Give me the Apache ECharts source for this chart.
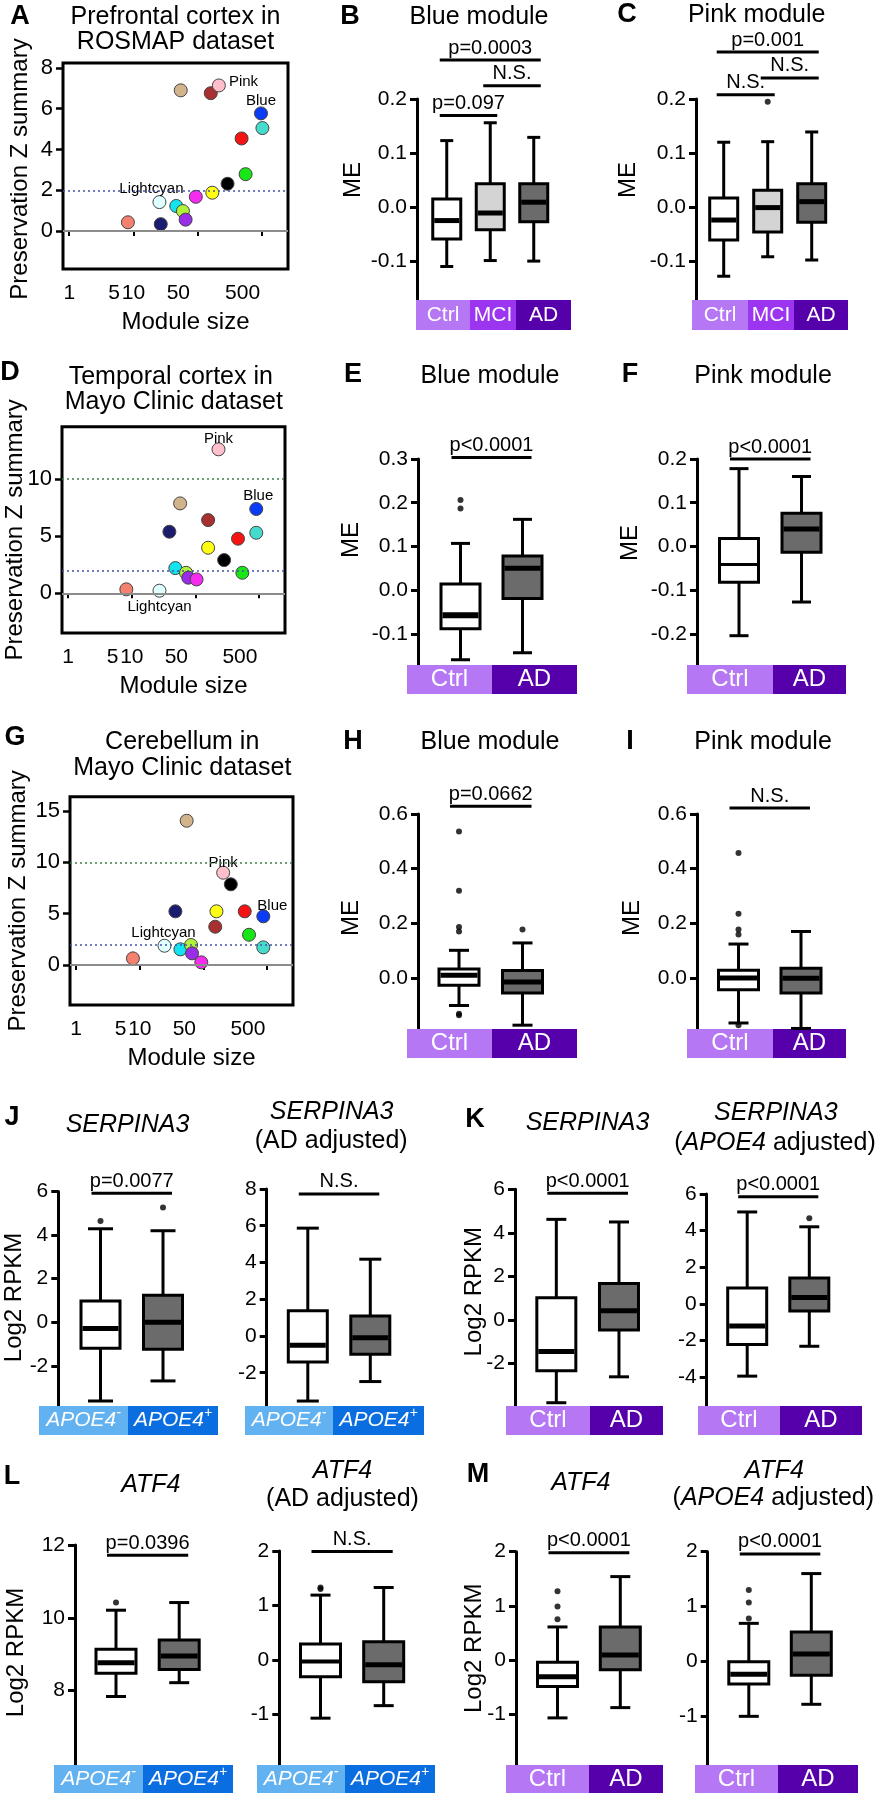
<!DOCTYPE html>
<html>
<head>
<meta charset="utf-8">
<script src="https://cdn.jsdelivr.net/npm/echarts@6.0.0/dist/echarts.min.js"></script>
<style>
html,body{margin:0;padding:0;background:#ffffff;}
#chart{width:878px;height:1800px;}
</style>
</head>
<body>
<div id="chart"></div>
<script>
// ================= DATA =================
const moduleNames  = ['salmon','midnightblue','lightcyan','cyan','greenyellow','purple','magenta','tan','brown','pink','yellow','black','green','red','turquoise','blue'];
const moduleColors = ['#f4806f','#1c1c6e','#e0ffff','#12e3ee','#b0f23a','#9a2ee8','#f52cf0','#d2b48c','#a83030','#ffc0cb','#ffff14','#000000','#17e617','#f51414','#45dccd','#0b3cf5'];
const labeledModules = {pink:'Pink', blue:'Blue', lightcyan:'Lightcyan'};

const moduleSizeA = [8.2, 26.6, 25.4, 46.4, 58.9, 64.9, 93.6, 54.5, 160, 214, 169, 292, 558, 483, 1019, 968];
const zSummaryA   = [0.43, 0.34, 1.42, 1.23, 0.98, 0.56, 1.68, 6.9, 6.76, 7.14, 1.88, 2.32, 2.79, 4.54, 5.05, 5.77];
const moduleSizeD = [8.2, 38.9, 27.2, 48.3, 71, 77, 104, 57.4, 158, 230, 158, 282, 545, 466, 902, 902];
const zSummaryD   = [0.35, 5.39, 0.23, 2.21, 1.8, 1.37, 1.22, 7.87, 6.41, 12.6, 3.99, 2.91, 1.8, 4.78, 5.3, 7.38];
const moduleSizeG = [7.8, 36.2, 24.4, 43.4, 63.8, 66.1, 92.4, 54.5, 153, 204, 160, 269, 520, 445, 871, 871];
const zSummaryG   = [0.65, 5.23, 1.88, 1.53, 1.95, 1.14, 0.26, 14.05, 3.73, 8.99, 5.23, 7.86, 2.95, 5.23, 1.72, 4.74];

const sizeTickLabels = [1, 5, 10, 50, 500];
const sizeTickMarks  = [1, 10, 100, 1000];
const zTicksA = [0, 2, 4, 6, 8];
const zTicksD = [0, 5, 10];
const zTicksG = [0, 5, 10, 15];
const refLinesA = [0, 2];
const refLinesD = [0, 2, 10];
const refLinesG = [0, 2, 10];

// box plots: [min, Q1, median, Q3, max]
const catsB = ['Ctrl','MCI','AD'];
const boxB = [[-0.110,-0.059,-0.025,0.015,0.123],[-0.099,-0.042,-0.011,0.043,0.156],[-0.100,-0.027,0.009,0.043,0.129]];
const outB = [];
const sigB = [[0,1,0.1696,'p=0.097'],[1,2,0.2246,'N.S.'],[0,2,0.2722,'p=0.0003']];
const ticksB = [-0.1, 0, 0.1, 0.2];

const catsC = ['Ctrl','MCI','AD'];
const boxC = [[-0.128,-0.061,-0.024,0.017,0.120],[-0.092,-0.046,-0.001,0.031,0.121],[-0.098,-0.028,0.010,0.043,0.139]];
const outC = [[1,0.195]];
const sigC = [[0,1,0.208,'N.S.'],[1,2,0.2389,'N.S.'],[0,2,0.287,'p=0.001']];
const ticksC = [-0.1, 0, 0.1, 0.2];

const catsCtrlAD = ['Ctrl','AD'];
const catsApoe = ['APOE4-','APOE4+'];

const boxE = [[-0.159,-0.088,-0.057,0.014,0.107],[-0.143,-0.019,0.050,0.078,0.162]];
const outE = [[0,0.206],[0,0.187]];
const sigE = [[0,1,0.3037,'p<0.0001']];
const ticksE = [-0.1, 0, 0.1, 0.2, 0.3];

const boxF = [[-0.204,-0.082,-0.041,0.018,0.178],[-0.127,-0.013,0.040,0.076,0.160]];
const outF = [];
const sigF = [[0,1,0.1998,'p<0.0001']];
const ticksF = [-0.2, -0.1, 0, 0.1, 0.2];

const boxH = [[-0.101,-0.027,0.010,0.033,0.101],[-0.173,-0.055,-0.015,0.027,0.128]];
const outH = [[0,0.536],[0,0.319],[0,0.186],[0,0.170],[0,-0.131],[0,-0.137],[1,0.177]];
const sigH = [[0,1,0.628,'p=0.0662']];
const ticksH = [0, 0.2, 0.4, 0.6];

const boxI = [[-0.165,-0.043,0.000,0.028,0.124],[-0.185,-0.055,-0.001,0.035,0.170]];
const outI = [[0,0.457],[0,0.235],[0,0.177],[0,0.159],[0,-0.173]];
const sigI = [[0,1,0.622,'N.S.']];
const ticksI = [0, 0.2, 0.4, 0.6];

const boxJ1 = [[-3.61,-1.19,-0.29,0.98,4.29],[-2.69,-1.24,0.0,1.24,4.2]];
const outJ1 = [[0,4.65],[1,5.27]];
const sigJ1 = [[0,1,5.92,'p=0.0077']];
const ticksJ1 = [-2, 0, 2, 4, 6];

const boxJ2 = [[-3.54,-1.42,-0.51,1.38,5.87],[-2.48,-0.99,-0.09,1.09,4.18]];
const outJ2 = [];
const sigJ2 = [[0,1,7.73,'N.S.']];
const ticksJ2 = [-2, 0, 2, 4, 6, 8];

const boxK1 = [[-3.8,-2.33,-1.45,1.02,4.62],[-2.61,-0.46,0.42,1.68,4.5]];
const outK1 = [];
const sigK1 = [[0,1,5.82,'p<0.0001']];
const ticksK1 = [-2, 0, 2, 4, 6];

const boxK2 = [[-3.94,-2.22,-1.21,0.87,5.02],[-2.31,-0.38,0.35,1.41,4.21]];
const outK2 = [[1,4.67]];
const sigK2 = [[0,1,5.85,'p<0.0001']];
const ticksK2 = [-4, -2, 0, 2, 4, 6];

const boxL1 = [[7.84,8.48,8.77,9.14,10.21],[8.22,8.58,8.95,9.39,10.42]];
const outL1 = [[0,10.42]];
const sigL1 = [[0,1,11.72,'p=0.0396']];
const ticksL1 = [8, 10, 12];

const boxL2 = [[-1.07,-0.31,-0.03,0.29,1.19],[-0.84,-0.40,-0.09,0.335,1.33]];
const outL2 = [[0,1.33],[0,1.30]];
const sigL2 = [[0,1,1.99,'N.S.']];
const ticksL2 = [-1, 0, 1, 2];

const boxM1 = [[-1.07,-0.49,-0.31,-0.04,0.61],[-0.88,-0.18,0.09,0.61,1.54]];
const outM1 = [[0,1.27],[0,0.99],[0,0.75]];
const sigM1 = [[0,1,1.98,'p<0.0001']];
const ticksM1 = [-1, 0, 1, 2];

const boxM2 = [[-1.01,-0.42,-0.24,-0.01,0.69],[-0.79,-0.26,0.13,0.53,1.60]];
const outM2 = [[0,1.30],[0,1.07],[0,0.78]];
const sigM2 = [[0,1,1.96,'p<0.0001']];
const ticksM2 = [-1, 0, 1, 2];

// ================= LAYOUT / STYLE =================
const FONT = '"Liberation Sans", Arial, Helvetica, sans-serif';
const fillMap = {'Ctrl':'#ffffff','MCI':'#d4d4d4','AD':'#6b6b6b','APOE4-':'#ffffff','APOE4+':'#6b6b6b'};
const bandColor = {'Ctrl':'#b677f4','MCI':'#9b35ef','AD':'#5600ac','APOE4-':'#62b1f1','APOE4+':'#0a6de0'};

const scatterPanels = [
  {size:moduleSizeA, z:zSummaryA, ref:refLinesA, ticks:zTicksA, left:63, right:288, top:63, bottom:269, min:-1.86, max:8.24, nameGap:31, nameShift:-3,
   lab:{pink:{position:'right',distance:3,offset:[0,-4]}, blue:{position:'top',distance:0,offset:[0,2]}, lightcyan:{position:'top',distance:0,offset:[-8,1]}}},
  {size:moduleSizeD, z:zSummaryD, ref:refLinesD, ticks:zTicksD, left:62, right:285, top:426.7, bottom:633, min:-3.47, max:14.58, nameGap:35, nameShift:0,
   lab:{pink:{position:'top',distance:0,offset:[0,4]}, blue:{position:'top',distance:0,offset:[2,1]}, lightcyan:{position:'bottom',distance:2,offset:[0,0]}}},
  {size:moduleSizeG, z:zSummaryG, ref:refLinesG, ticks:zTicksG, left:70, right:293, top:796.7, bottom:1005, min:-3.89, max:16.39, nameGap:40, nameShift:0,
   lab:{pink:{position:'top',distance:0,offset:[0,5]}, blue:{position:'top',distance:0,offset:[9,4]}, lightcyan:{position:'top',distance:0,offset:[-1,2]}}}
];

const boxPanels = [
  {cats:catsB, box:boxB, out:outB, sig:sigB, ticks:ticksB, dec:1, axisX:417, left:425, right:555.5, top:99, bottom:300, min:-0.172, max:0.2, boxW:28, capW:13, medW:[5,5,5], band:[416,470,516,571], bandTop:300, bandH:30, bandFs:21, yName:'ME', nameCx:353, nameCy:180},
  {cats:catsC, box:boxC, out:outC, sig:sigC, ticks:ticksC, dec:1, axisX:696, left:701.7, right:833.7, top:99, bottom:300, min:-0.172, max:0.2, boxW:28, capW:13, medW:[5,5,5], band:[692,748,794,848], bandTop:300, bandH:30, bandFs:21, yName:'ME', nameCx:628, nameCy:180},
  {cats:catsCtrlAD, box:boxE, out:outE, sig:sigE, ticks:ticksE, dec:1, axisX:418, left:429.5, right:553.5, top:459, bottom:665, min:-0.171, max:0.3, boxW:39, capW:19, medW:[6,5], band:[407,492,577], bandTop:665, bandH:29, bandFs:24, yName:'ME', nameCx:351, nameCy:540},
  {cats:catsCtrlAD, box:boxF, out:outF, sig:sigF, ticks:ticksF, dec:1, axisX:697, left:707.75, right:832.75, top:459, bottom:665, min:-0.271, max:0.2, boxW:39, capW:19, medW:[3,5], band:[687,773,846], bandTop:665, bandH:29, bandFs:24, yName:'ME', nameCx:630, nameCy:543},
  {cats:catsCtrlAD, box:boxH, out:outH, sig:sigH, ticks:ticksH, dec:1, axisX:418, left:427.25, right:554.25, top:814, bottom:1029, min:-0.187, max:0.6, boxW:40, capW:20, medW:[5,5], band:[407,492,577], bandTop:1029, bandH:29, bandFs:24, yName:'ME', nameCx:351, nameCy:918},
  {cats:catsCtrlAD, box:boxI, out:outI, sig:sigI, ticks:ticksI, dec:1, axisX:697, left:707.25, right:832.25, top:814, bottom:1029, min:-0.187, max:0.6, boxW:40, capW:20, medW:[5,5], band:[687,773,846], bandTop:1029, bandH:29, bandFs:24, yName:'ME', nameCx:632, nameCy:918},
  {cats:catsApoe, box:boxJ1, out:outJ1, sig:sigJ1, ticks:ticksJ1, dec:0, axisX:58.3, left:69.25, right:194.25, top:1191.5, bottom:1406, min:-3.84, max:6, boxW:39, capW:25, medW:[5,5], band:[39,128,218], bandTop:1406, bandH:29, bandFs:21, yName:'Log2 RPKM', nameCx:14, nameCy:1297.5},
  {cats:catsApoe, box:boxJ2, out:outJ2, sig:sigJ2, ticks:ticksJ2, dec:0, axisX:266.7, left:276.55, right:401.55, top:1189, bottom:1406, min:-3.81, max:8, boxW:39, capW:22, medW:[5,5], band:[245,333,424], bandTop:1406, bandH:29, bandFs:21},
  {cats:catsCtrlAD, box:boxK1, out:outK1, sig:sigK1, ticks:ticksK1, dec:0, axisX:515, left:525, right:650.3, top:1189.3, bottom:1406, min:-3.95, max:6, boxW:39, capW:20, medW:[5,5], band:[506,590,663], bandTop:1406, bandH:29, bandFs:24, yName:'Log2 RPKM', nameCx:474, nameCy:1291.7},
  {cats:catsCtrlAD, box:boxK2, out:outK2, sig:sigK2, ticks:ticksK2, dec:0, axisX:706.7, left:716.15, right:840.35, top:1194, bottom:1406, min:-5.57, max:6, boxW:39, capW:20, medW:[5,5], band:[698,780,862], bandTop:1406, bandH:29, bandFs:24},
  {cats:catsApoe, box:boxL1, out:outL1, sig:sigL1, ticks:ticksL1, dec:0, axisX:75, left:84.4, right:210.8, top:1545, bottom:1765, min:5.96, max:12, boxW:40, capW:20, medW:[5,5], band:[54,143,233], bandTop:1765, bandH:28, bandFs:21, yName:'Log2 RPKM', nameCx:16, nameCy:1652.5},
  {cats:catsApoe, box:boxL2, out:outL2, sig:sigL2, ticks:ticksL2, dec:0, axisX:279.3, left:288.9, right:415.3, top:1551, bottom:1765, min:-1.93, max:2, boxW:40, capW:20, medW:[4,5], band:[257,345,435], bandTop:1765, bandH:28, bandFs:21},
  {cats:catsCtrlAD, box:boxM1, out:outM1, sig:sigM1, ticks:ticksM1, dec:0, axisX:516, left:526.1, right:651.7, top:1551.7, bottom:1765, min:-1.94, max:2, boxW:40, capW:20, medW:[5,5], band:[506,589,663], bandTop:1765, bandH:28, bandFs:24, yName:'Log2 RPKM', nameCx:474, nameCy:1648.3},
  {cats:catsCtrlAD, box:boxM2, out:outM2, sig:sigM2, ticks:ticksM2, dec:0, axisX:707.7, left:717.55, right:842.55, top:1551.7, bottom:1765, min:-1.9, max:2, boxW:40, capW:20, medW:[5,5], band:[695,778,858], bandTop:1765, bandH:28, bandFs:24}
];

// ================= BUILD =================
const grid = [], xAxis = [], yAxis = [], series = [], graphic = [];

function txt(x, y, text, fs, extra) {
  graphic.push({type:'text', x:x, y:y, silent:true, z:10,
    style:Object.assign({text:text, fontSize:fs, fontFamily:FONT, fill:'#000', align:'center', verticalAlign:'middle'}, extra || {})});
}
function fmtTick(v, dec) { return dec > 0 ? Number(v).toFixed(dec) : String(Math.round(v)); }
function padShift(shift) { return shift >= 0 ? [0,0,0,2*shift] : [0,-2*shift,0,0]; }

scatterPanels.forEach(function (p) {
  const gi = grid.length;
  grid.push({left:p.left, top:p.top, width:p.right-p.left, height:p.bottom-p.top, show:true, borderColor:'#000', borderWidth:3, backgroundColor:'rgba(0,0,0,0)', outerBoundsMode:'none', containLabel:false});
  xAxis.push({gridIndex:gi, type:'log', logBase:10, min:0.8, max:2550, offset:6, position:'bottom',
    axisLine:{show:false}, splitLine:{show:false}, nameMoveOverlap:false,
    axisTick:{show:true, customValues:sizeTickMarks, length:5, lineStyle:{color:'#000', width:2}},
    axisLabel:{customValues:sizeTickLabels, fontSize:21, fontFamily:FONT, color:'#000', margin:8, formatter:function(v){return String(Math.round(v));}},
    name:'Module size', nameLocation:'middle', nameGap:35, nameTextStyle:{fontSize:24, fontFamily:FONT, color:'#000', padding:[0,0,0,20]}});
  yAxis.push({gridIndex:gi, type:'value', min:p.min, max:p.max, axisLine:{show:false}, splitLine:{show:false}, nameMoveOverlap:false,
    axisTick:{show:true, customValues:p.ticks, length:7, lineStyle:{color:'#000', width:2.5}},
    axisLabel:{customValues:p.ticks, fontSize:22, fontFamily:FONT, color:'#000', margin:10},
    name:'Preservation Z summary', nameLocation:'middle', nameRotate:90, nameGap:p.nameGap,
    nameTextStyle:{fontSize:24, fontFamily:FONT, color:'#000', padding:padShift(p.nameShift)}});
  series.push({type:'scatter', xAxisIndex:gi, yAxisIndex:gi, data:[], z:1, silent:true,
    markLine:{silent:true, symbol:['none','none'], label:{show:false}, animation:false,
      data:p.ref.map(function (v) {
        return {yAxis:v, lineStyle: v === 0 ? {color:'#8c8c8c', width:2, type:'solid'}
          : {color: v === 2 ? '#4652a6' : '#3f7f46', width:1.5, type:[2,3]}};
      })}});
  series.push({type:'scatter', xAxisIndex:gi, yAxisIndex:gi, z:3, symbolSize:13, silent:true,
    itemStyle:{borderColor:'#444', borderWidth:1, opacity:1},
    data:p.size.map(function (s, k) {
      const nm = moduleNames[k];
      const it = {value:[s, p.z[k]], itemStyle:{color:moduleColors[k]}};
      if (labeledModules[nm]) {
        const L = p.lab[nm];
        it.label = {show:true, formatter:labeledModules[nm], position:L.position, distance:L.distance, offset:L.offset, fontSize:15, fontFamily:FONT, color:'#000'};
      }
      return it;
    })});
});

function bandFormatter(v) {
  if (v === 'APOE4-') return '{i|APOE4}{s|-}';
  if (v === 'APOE4+') return '{i|APOE4}{s|+}';
  return '{t|' + v + '}';
}

boxPanels.forEach(function (p) {
  const gi = grid.length; p.gi = gi;
  grid.push({left:p.left, top:p.top, width:p.right-p.left, height:p.bottom-p.top, outerBoundsMode:'none', containLabel:false});
  xAxis.push({gridIndex:gi, type:'category', data:p.cats, boundaryGap:true, show:false});
  const yA = {gridIndex:gi, type:'value', min:p.min, max:p.max, offset:p.left-p.axisX, splitLine:{show:false}, nameMoveOverlap:false,
    axisLine:{show:true, lineStyle:{color:'#000', width:3}},
    axisTick:{show:true, customValues:p.ticks, length:7, lineStyle:{color:'#000', width:3}},
    axisLabel:{customValues:p.ticks, formatter:function(v){return fmtTick(v, p.dec);}, fontSize:21, fontFamily:FONT, color:'#000', margin:10}};
  if (p.yName) {
    const shift = (p.top + p.bottom)/2 - p.nameCy;
    Object.assign(yA, {name:p.yName, nameLocation:'middle', nameRotate:90, nameGap:p.axisX - p.nameCx - 12,
      nameTextStyle:{fontSize:24, fontFamily:FONT, color:'#000', padding:padShift(shift)}});
  }
  yAxis.push(yA);
  series.push({type:'custom', xAxisIndex:gi, yAxisIndex:gi, z:2, silent:true,
    encode:{x:0, y:[1,2,3,4,5]},
    data:p.box.map(function (b, k) { return [k].concat(b); }),
    renderItem:function (params, api) {
      const c = api.value(0);
      const pMn = api.coord([c, api.value(1)]);
      const pQ1 = api.coord([c, api.value(2)]);
      const pMd = api.coord([c, api.value(3)]);
      const pQ3 = api.coord([c, api.value(4)]);
      const pMx = api.coord([c, api.value(5)]);
      const x = pMd[0], w = p.boxW, cw = p.capW;
      const st = {stroke:'#000', lineWidth:3, fill:null};
      return {type:'group', children:[
        {type:'line', shape:{x1:x, y1:pMx[1], x2:x, y2:pQ3[1]}, style:st},
        {type:'line', shape:{x1:x, y1:pQ1[1], x2:x, y2:pMn[1]}, style:st},
        {type:'line', shape:{x1:x-cw/2, y1:pMx[1], x2:x+cw/2, y2:pMx[1]}, style:st},
        {type:'line', shape:{x1:x-cw/2, y1:pMn[1], x2:x+cw/2, y2:pMn[1]}, style:st},
        {type:'rect', shape:{x:x-w/2, y:pQ3[1], width:w, height:pQ1[1]-pQ3[1]}, style:{fill:fillMap[p.cats[c]], stroke:'#000', lineWidth:3}},
        {type:'line', shape:{x1:x-w/2+1.5, y1:pMd[1], x2:x+w/2-1.5, y2:pMd[1]}, style:{stroke:'#000', lineWidth:p.medW[c]}}
      ]};
    }});
  if (p.out.length) {
    series.push({type:'scatter', xAxisIndex:gi, yAxisIndex:gi, z:3, silent:true, symbolSize:6, itemStyle:{color:'#000'}, data:p.out});
  }
  p.cats.forEach(function (c, k) {
    const e0 = p.band[k], e1 = p.band[k+1];
    const bi = grid.length;
    grid.push({left:e0, width:e1-e0, top:p.bandTop-10, height:10, outerBoundsMode:'none', containLabel:false});
    xAxis.push({gridIndex:bi, type:'category', data:[c], boundaryGap:true,
      axisLine:{show:false}, axisTick:{show:false}, splitLine:{show:false},
      axisLabel:{show:true, interval:0, margin:0, formatter:bandFormatter, backgroundColor:bandColor[c],
        width:e1-e0, height:p.bandH, lineHeight:p.bandH, color:'#fff', align:'center', verticalAlign:'top', padding:0,
        fontSize:p.bandFs, fontFamily:FONT,
        rich:{
          t:{fontSize:p.bandFs, fontFamily:FONT, color:'#fff', lineHeight:p.bandH, align:'center'},
          i:{fontSize:21, fontStyle:'italic', fontFamily:FONT, color:'#fff', lineHeight:p.bandH, align:'center'},
          s:{fontSize:14, fontStyle:'italic', fontFamily:FONT, color:'#fff', lineHeight:16, verticalAlign:'top', align:'center'}
        }}});
    yAxis.push({gridIndex:bi, type:'value', show:false});
  });
});

// ---- titles & panel letters ----
const T = 25, italic = {fontStyle:'italic'};
txt(175.5, 16.7, 'Prefrontal cortex in', T); txt(175.5, 41.7, 'ROSMAP dataset', T);
txt(170.8, 376.7, 'Temporal cortex in', T); txt(173.8, 401.7, 'Mayo Clinic dataset', T);
txt(182.2, 741.7, 'Cerebellum in', T); txt(182.3, 768, 'Mayo Clinic dataset', T);
txt(479, 17, 'Blue module', T); txt(756.7, 15, 'Pink module', T);
txt(490, 376, 'Blue module', T); txt(763, 376, 'Pink module', T);
txt(490, 742, 'Blue module', T); txt(763, 742, 'Pink module', T);
txt(127.5, 1125, 'SERPINA3', T, italic);
txt(331.7, 1111.7, 'SERPINA3', T, italic); txt(331.2, 1140.7, '(AD adjusted)', T);
txt(587.5, 1123, 'SERPINA3', T, italic);
txt(775.8, 1113.3, 'SERPINA3', T, italic);
txt(775, 1143.3, '{n|(}{i|APOE4}{n| adjusted)}', T, {rich:{n:{fontSize:T, fontFamily:FONT, fill:'#000'}, i:{fontSize:T, fontFamily:FONT, fontStyle:'italic', fill:'#000'}}});
txt(150.8, 1485, 'ATF4', T, italic);
txt(342.5, 1471, 'ATF4', T, italic); txt(342.5, 1499.3, '(AD adjusted)', T);
txt(580.8, 1483.3, 'ATF4', T, italic);
txt(774.2, 1471, 'ATF4', T, italic);
txt(773.3, 1498.3, '{n|(}{i|APOE4}{n| adjusted)}', T, {rich:{n:{fontSize:T, fontFamily:FONT, fill:'#000'}, i:{fontSize:T, fontFamily:FONT, fontStyle:'italic', fill:'#000'}}});
const letters = [['A',20,17],['B',350,17],['C',627,15],['D',10,373],['E',353,375],['F',630,375],['G',15,738],['H',353,742],['I',630,742],['J',12,1118],['K',475,1120],['L',12,1477],['M',478,1475]];
letters.forEach(function (l) { txt(l[1], l[2], l[0], 27, {fontWeight:'bold'}); });

const chart = echarts.init(document.getElementById('chart'), null, {renderer:'canvas', width:878, height:1800});
chart.setOption({
  animation:false,
  backgroundColor:'#ffffff',
  textStyle:{fontFamily:FONT},
  grid:grid, xAxis:xAxis, yAxis:yAxis, series:series,
  graphic:graphic
});

// ---- significance bars, positioned through the axes ----
boxPanels.forEach(function (p) {
  const ext = p.cats.length > 2 ? 7 : 9;
  p.sig.forEach(function (s) {
    const pa = chart.convertToPixel({gridIndex:p.gi}, [s[0], s[2]]);
    const pb = chart.convertToPixel({gridIndex:p.gi}, [s[1], s[2]]);
    graphic.push({type:'line', silent:true, z:10, shape:{x1:pa[0]-ext, y1:pa[1], x2:pb[0]+ext, y2:pb[1]}, style:{stroke:'#000', lineWidth:3}});
    graphic.push({type:'text', silent:true, z:10, x:(pa[0]+pb[0])/2, y:pa[1]-2,
      style:{text:s[3], fontSize:20, fontFamily:FONT, fill:'#000', align:'center', verticalAlign:'bottom'}});
  });
});
chart.setOption({graphic:graphic});
</script>
</body>
</html>
